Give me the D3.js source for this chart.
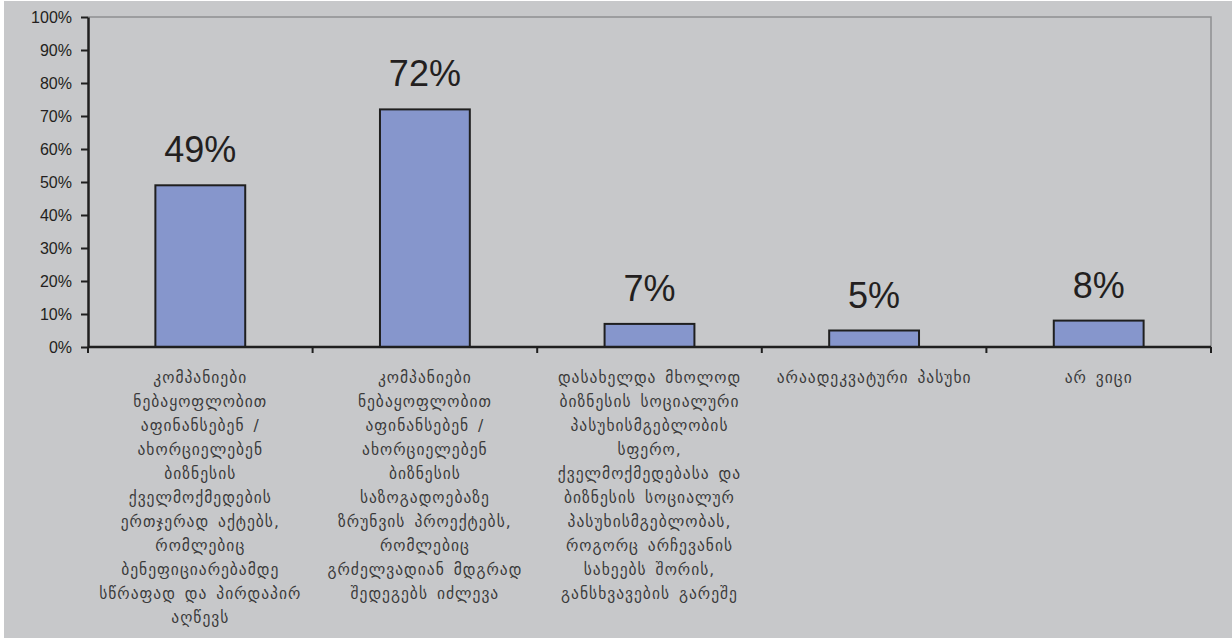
<!DOCTYPE html>
<html>
<head>
<meta charset="utf-8">
<script src="https://cdn.jsdelivr.net/npm/d3@7/dist/d3.min.js"></script>
<style>
  html, body { margin: 0; padding: 0; background: #ffffff; }
  svg { display: block; }
</style>
</head>
<body>
<svg id="chart" width="1232" height="638"></svg>
<script>
// Survey answers: share of respondents per answer option (percent)
const categories = [
  ["კომპანიები", "ნებაყოფლობით", "აფინანსებენ /", "ახორციელებენ", "ბიზნესის", "ქველმოქმედების", "ერთჯერად აქტებს,", "რომლებიც", "ბენეფიციარებამდე", "სწრაფად და პირდაპირ", "აღწევს"],
  ["კომპანიები", "ნებაყოფლობით", "აფინანსებენ /", "ახორციელებენ", "ბიზნესის", "საზოგადოებაზე", "ზრუნვის პროექტებს,", "რომლებიც", "გრძელვადიან მდგრად", "შედეგებს იძლევა"],
  ["დასახელდა მხოლოდ", "ბიზნესის სოციალური", "პასუხისმგებლობის", "სფერო,", "ქველმოქმედებასა და", "ბიზნესის სოციალურ", "პასუხისმგებლობას,", "როგორც არჩევანის", "სახეებს შორის,", "განსხვავების გარეშე"],
  ["არაადეკვატური პასუხი"],
  ["არ ვიცი"]
];
const values = [49, 72, 7, 5, 8];
const yTicks = [0, 10, 20, 30, 40, 50, 60, 70, 80, 90, 100];

const svg = d3.select("#chart");
const W = 1232, H = 638;

// panel background
svg.append("rect").attr("x", 4).attr("y", 1).attr("width", W - 4).attr("height", H - 1)
  .attr("fill", "#c7c8ca");

const plot = { left: 88, right: 1211, top: 17, bottom: 347 };

const x = d3.scaleBand()
  .domain(d3.range(categories.length))
  .range([plot.left, plot.right])
  .paddingInner(0.6)
  .paddingOuter(0.3);

const y = d3.scaleLinear().domain([0, 100]).range([plot.bottom, plot.top]);

// plot frame (top and right edges)
svg.append("path")
  .attr("d", `M${plot.left},${plot.top}H${plot.right}V${plot.bottom}`)
  .attr("fill", "none").attr("stroke", "#8e8f91").attr("stroke-width", 1.5);

// bars
svg.append("g").selectAll("rect").data(values).join("rect")
  .attr("x", (d, i) => x(i))
  .attr("y", d => y(d))
  .attr("width", x.bandwidth())
  .attr("height", d => y(0) - y(d))
  .attr("fill", "#8696cc")
  .attr("stroke", "#1f1f1f")
  .attr("stroke-width", 2);

// value labels
svg.append("g").selectAll("text").data(values).join("text")
  .attr("x", (d, i) => x(i) + x.bandwidth() / 2)
  .attr("y", d => y(d) - 23)
  .attr("text-anchor", "middle")
  .attr("font-family", "Liberation Sans, Arial, sans-serif")
  .attr("font-size", 36)
  .attr("fill", "#231f20")
  .text(d => d + "%");

// y axis
const yAxis = svg.append("g")
  .attr("transform", `translate(${plot.left},0)`)
  .call(d3.axisLeft(y).tickValues(yTicks).tickFormat(d => d + "%").tickSize(7).tickSizeOuter(0));
yAxis.select(".domain").attr("stroke", "#1f1f1f").attr("stroke-width", 2.5);
yAxis.selectAll(".tick line").attr("stroke", "#1f1f1f").attr("stroke-width", 2);
yAxis.selectAll(".tick text")
  .attr("x", -16)
  .attr("font-family", "Liberation Sans, Arial, sans-serif")
  .attr("font-size", 16)
  .attr("fill", "#231f20");

// x axis: line with ticks at band boundaries
const bounds = d3.range(categories.length + 1).map(i =>
  plot.left + i * (plot.right - plot.left) / categories.length);
const xAxis = svg.append("g");
xAxis.append("line")
  .attr("x1", plot.left).attr("x2", plot.right)
  .attr("y1", plot.bottom).attr("y2", plot.bottom)
  .attr("stroke", "#1f1f1f").attr("stroke-width", 2.5);
xAxis.selectAll("line.tk").data(bounds).join("line")
  .attr("class", "tk")
  .attr("x1", d => d).attr("x2", d => d)
  .attr("y1", plot.bottom).attr("y2", plot.bottom + 6)
  .attr("stroke", "#1f1f1f").attr("stroke-width", 2);

// category labels
const lab = svg.append("g").selectAll("text").data(categories).join("text")
  .attr("text-anchor", "middle")
  .attr("font-family", "DejaVu Sans, sans-serif")
  .attr("font-size", 15.5)
  .attr("letter-spacing", 1)
  .attr("word-spacing", 3)
  .attr("fill", "#3a3a3a");
lab.each(function(lines, i) {
  const t = d3.select(this);
  const cx = x(i) + x.bandwidth() / 2;
  lines.forEach((ln, k) => {
    t.append("tspan").attr("x", cx).attr("y", 383 + k * 24).text(ln);
  });
});
</script>
</body>
</html>
